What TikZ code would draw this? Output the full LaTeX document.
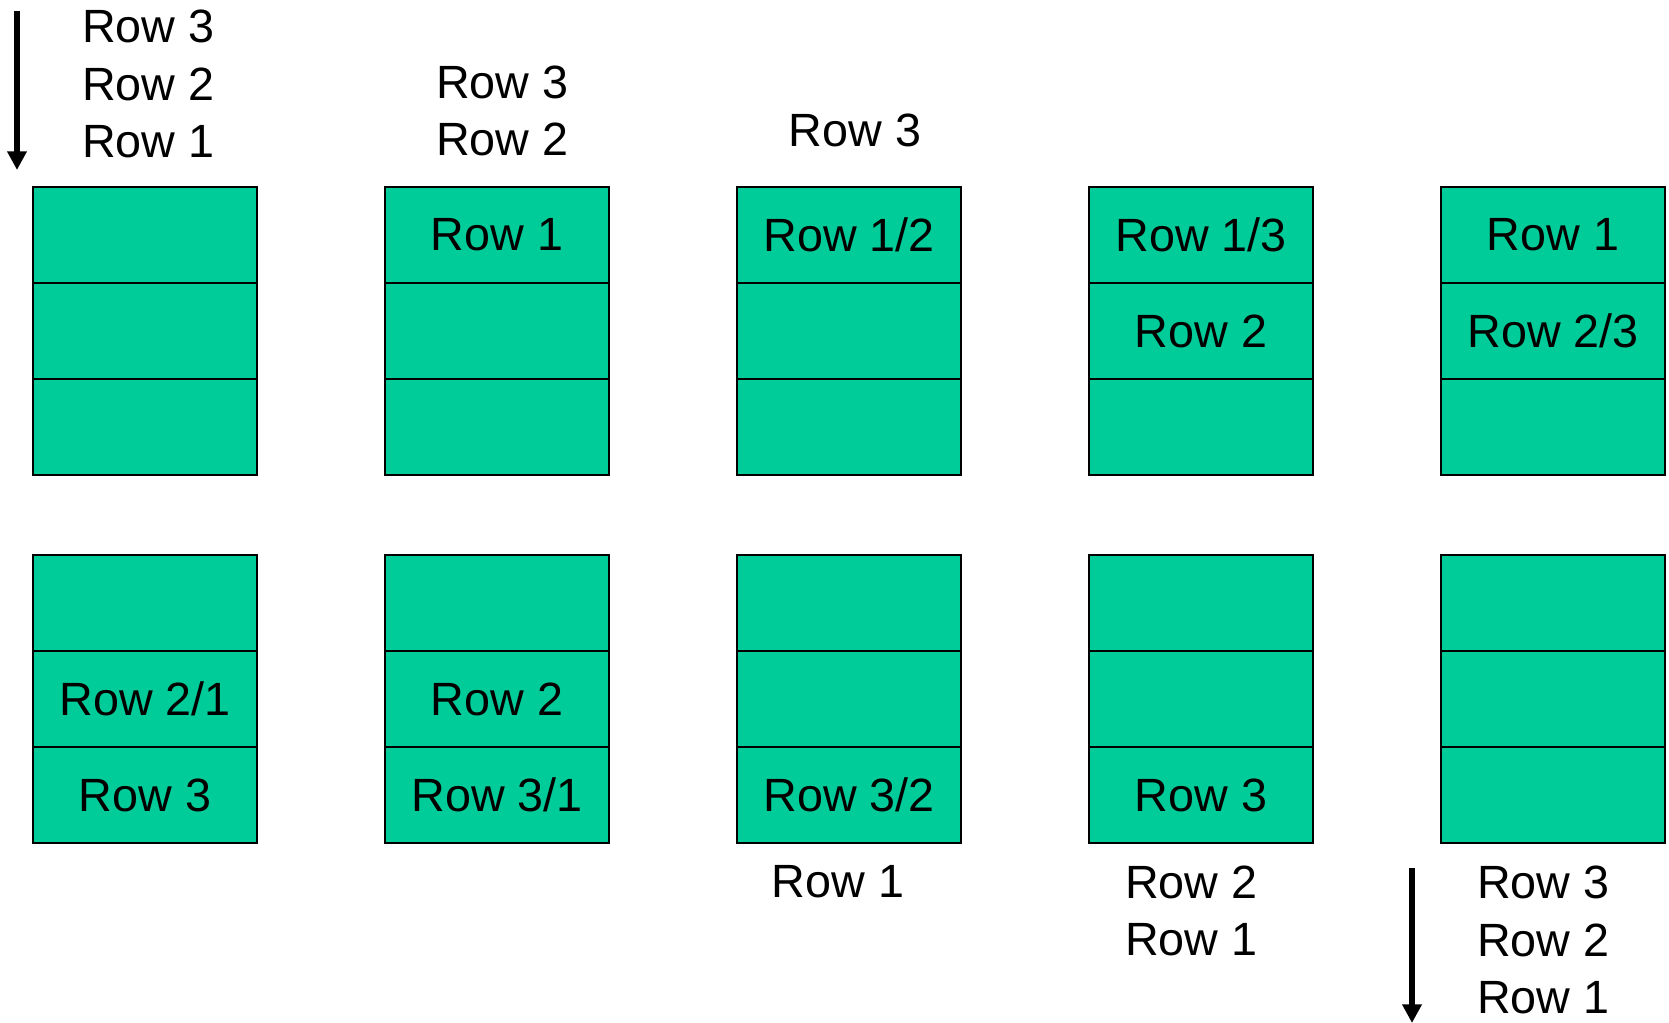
\documentclass[tikz,border=0pt]{standalone}
\usepackage{fontspec}
\setmainfont{Liberation Sans}
\usepackage{xcolor}
\usetikzlibrary{positioning, arrows.meta}
\definecolor{cellgreen}{RGB}{0,204,153}
\newcommand{\rowlabel}[1]{Row #1}

\begin{document}
\begin{tikzpicture}[x=0.75pt, y=-0.75pt, font=\fontsize{35}{43}\selectfont,
  cell/.style={draw, line width=1.5pt, fill=cellgreen, minimum width=168pt, minimum height=72pt, inner sep=0pt, outer sep=0pt},
  rowlist/.style={align=left, inner sep=0pt},
  flow/.style={line width=4.2pt, -{Triangle[length=14pt, width=14pt]}}]
\useasboundingbox (0,0) rectangle (1669,1023);
% upper stage
\node [cell] (t1a) at (145,235) {};
\node [cell, below=0pt of t1a] (t1b) {};
\node [cell, below=0pt of t1b] (t1c) {};
\node [cell] (t2a) at (497,235) {\rowlabel{1}};
\node [cell, below=0pt of t2a] (t2b) {};
\node [cell, below=0pt of t2b] (t2c) {};
\node [cell] (t3a) at (849,235) {\rowlabel{1/2}};
\node [cell, below=0pt of t3a] (t3b) {};
\node [cell, below=0pt of t3b] (t3c) {};
\node [cell] (t4a) at (1201,235) {\rowlabel{1/3}};
\node [cell, below=0pt of t4a] (t4b) {\rowlabel{2}};
\node [cell, below=0pt of t4b] (t4c) {};
\node [cell] (t5a) at (1553,235) {\rowlabel{1}};
\node [cell, below=0pt of t5a] (t5b) {\rowlabel{2/3}};
\node [cell, below=0pt of t5b] (t5c) {};
% lower stage
\node [cell] (b1a) at (145,603) {};
\node [cell, below=0pt of b1a] (b1b) {\rowlabel{2/1}};
\node [cell, below=0pt of b1b] (b1c) {\rowlabel{3}};
\node [cell] (b2a) at (497,603) {};
\node [cell, below=0pt of b2a] (b2b) {\rowlabel{2}};
\node [cell, below=0pt of b2b] (b2c) {\rowlabel{3/1}};
\node [cell] (b3a) at (849,603) {};
\node [cell, below=0pt of b3a] (b3b) {};
\node [cell, below=0pt of b3b] (b3c) {\rowlabel{3/2}};
\node [cell] (b4a) at (1201,603) {};
\node [cell, below=0pt of b4a] (b4b) {};
\node [cell, below=0pt of b4b] (b4c) {\rowlabel{3}};
\node [cell] (b5a) at (1553,603) {};
\node [cell, below=0pt of b5a] (b5b) {};
\node [cell, below=0pt of b5b] (b5c) {};
% rows waiting and rows done
\node [rowlist, anchor=west] (in1) at (82,84) {\rowlabel{3}\\\rowlabel{2}\\\rowlabel{1}};
\node [rowlist, anchor=west] (in2) at (436,111) {\rowlabel{3}\\\rowlabel{2}};
\node [rowlist] (in3) at (855,130) {\rowlabel{3}};
\node [rowlist] (out3) at (838,882) {\rowlabel{1}};
\node [rowlist, anchor=west] (out4) at (1125,911) {\rowlabel{2}\\\rowlabel{1}};
\node [rowlist, anchor=west] (out5) at (1477,940) {\rowlabel{3}\\\rowlabel{2}\\\rowlabel{1}};
\coordinate (inS) at (17,11);
\coordinate (inE) at (17,170);
\coordinate (outS) at (1412,868);
\coordinate (outE) at (1412,1023);
\draw [flow] (inS) -- (inE);
\draw [flow] (outS) -- (outE);
\end{tikzpicture}
\end{document}
